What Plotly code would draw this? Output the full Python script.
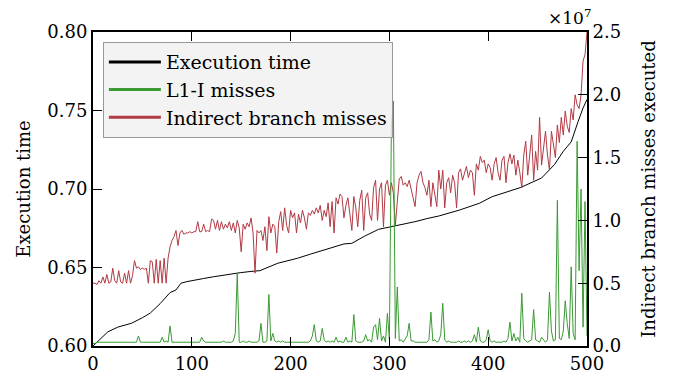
import plotly.graph_objects as go

# Execution time of each run (sorted), left axis
time_x = [0, 8, 15, 25, 39, 50, 58, 68, 74, 78, 84, 89, 95, 102, 112, 122, 135, 149,
          160, 169, 187, 207, 220, 234, 254, 262, 275, 289, 306, 326, 339, 350, 371,
          391, 404, 424, 433, 454, 467, 476, 484, 491, 496, 500]
time_y = [0.600, 0.605, 0.609, 0.612, 0.6145, 0.618, 0.621, 0.627, 0.631, 0.634, 0.6357,
          0.640, 0.641, 0.642, 0.643, 0.6441, 0.6455, 0.6467, 0.6475, 0.648, 0.6527,
          0.6559, 0.6585, 0.6611, 0.665, 0.6654, 0.670, 0.6743, 0.6764, 0.6792, 0.6813,
          0.6828, 0.6866, 0.6909, 0.6951, 0.6989, 0.701, 0.707, 0.7155, 0.724, 0.730,
          0.743, 0.7516, 0.757]

# Run index for the counter series
run_x = list(range(0, 501, 2))

# Indirect branch misses (x 1e7), right axis
branch_misses = (
    [0.50, 0.50, 0.49, 0.52, 0.50, 0.55, 0.50, 0.57, 0.50, 0.51, 0.62, 0.52, 0.50, 0.60,
     0.51, 0.50, 0.58, 0.50, 0.60, 0.50, 0.56]
    + [0.68, 0.62, 0.63, 0.61, 0.62, 0.61, 0.62, 0.50, 0.68, 0.67, 0.50, 0.69, 0.50, 0.68,
       0.50, 0.70, 0.50, 0.70]
    + [0.79, 0.84, 0.87, 0.92, 0.80, 0.90, 0.92, 0.89, 0.90, 0.90, 0.91, 0.90]
    + [0.91, 0.91, 0.99, 0.91, 0.91, 0.97, 0.91, 0.92, 0.91, 1.01, 1.00, 0.93, 1.00, 0.92,
       0.99, 0.93, 0.97, 0.94, 0.99, 0.92, 0.98, 0.90, 1.00, 0.94, 0.75]
    + [0.97, 0.93, 0.98, 0.95, 1.02, 0.90, 0.58, 0.92, 0.90, 0.92, 0.84, 0.95, 0.76, 1.03,
       0.90, 0.97, 0.95, 0.74, 0.99, 1.07, 0.92, 1.10, 0.96, 0.90, 1.08]
    + [1.02, 1.06, 0.90, 1.05, 0.98, 1.08, 1.02, 0.93, 1.06, 1.04, 1.08, 1.05, 1.10, 1.06,
       1.12, 1.00, 1.08, 1.03, 1.14, 0.95, 1.15, 0.90, 1.18, 1.13, 1.21]
    + [1.19, 1.02, 1.12, 1.18, 1.05, 0.92, 1.19, 1.10, 0.95, 1.16, 1.24, 0.92, 1.18, 1.22,
       1.05, 1.00, 1.26, 1.32, 1.00, 1.25, 1.30, 0.95, 1.28, 1.32, 1.20]
    + [1.30, 1.22, 0.96, 1.15, 1.33, 1.35, 1.28, 1.30, 1.27, 1.32, 1.24, 1.18, 1.11, 1.30,
       1.36, 1.39, 1.30, 1.26, 1.20, 1.32, 1.11, 1.30, 1.20, 1.11, 1.40]
    + [1.25, 1.40, 1.10, 1.30, 1.34, 1.22, 1.36, 1.30, 1.10, 1.38, 1.41, 1.32, 1.38, 1.43,
       1.34, 1.40, 1.38, 1.20, 1.45, 1.40, 1.51, 1.46, 1.48, 1.38, 1.45]
    + [1.42, 1.32, 1.45, 1.50, 1.38, 1.32, 1.48, 1.51, 1.30, 1.46, 1.53, 1.45, 1.52, 1.36,
       1.48, 1.38, 1.26, 1.52, 1.63, 1.36, 1.50, 1.68, 1.32, 1.55, 1.40]
    + [1.82, 1.44, 1.60, 1.71, 1.52, 1.40, 1.71, 1.58, 1.50, 1.76, 1.62, 1.82, 1.68, 1.87,
       1.75, 1.70, 1.89, 1.80, 2.00, 1.92, 1.89, 2.00, 2.27, 2.32, 2.50]
)

# L1-I cache misses (x 1e7), right axis
l1i_misses = (
    [0.02, 0.02, 0.03, 0.03, 0.03, 0.03, 0.03, 0.03, 0.03, 0.03, 0.03, 0.03, 0.03, 0.03,
     0.03, 0.03, 0.03, 0.03, 0.03, 0.03, 0.03, 0.03, 0.03, 0.08, 0.03, 0.03]
    + [0.03, 0.03, 0.03, 0.03, 0.03, 0.03, 0.03, 0.03, 0.03, 0.07, 0.03, 0.04, 0.03, 0.16,
       0.03, 0.03, 0.03, 0.03, 0.03, 0.03, 0.03, 0.03, 0.03, 0.03, 0.03]
    + [0.03, 0.03, 0.03, 0.03, 0.07, 0.04, 0.03, 0.03, 0.03, 0.03, 0.03, 0.03, 0.03, 0.03,
       0.03, 0.04, 0.03, 0.03, 0.03, 0.03, 0.04, 0.10, 0.58, 0.03, 0.03]
    + [0.04, 0.03, 0.03, 0.04, 0.03, 0.03, 0.03, 0.03, 0.04, 0.18, 0.03, 0.03, 0.04, 0.41,
       0.04, 0.10, 0.04, 0.03, 0.04, 0.03, 0.04, 0.03, 0.03, 0.03, 0.03]
    + [0.03, 0.03, 0.03, 0.03, 0.03, 0.03, 0.03, 0.03, 0.03, 0.04, 0.08, 0.17, 0.04, 0.03,
       0.04, 0.14, 0.05, 0.03, 0.04, 0.03, 0.04, 0.03, 0.07, 0.03, 0.04]
    + [0.03, 0.03, 0.07, 0.03, 0.04, 0.03, 0.25, 0.04, 0.03, 0.03, 0.03, 0.04, 0.09, 0.04,
       0.05, 0.03, 0.15, 0.17, 0.05, 0.22, 0.04, 0.08, 0.03, 0.26, 0.05]
    + [1.75, 1.95, 0.06, 0.47, 0.04, 0.05, 0.03, 0.06, 0.08, 0.18, 0.04, 0.04, 0.03, 0.03,
       0.03, 0.03, 0.03, 0.03, 0.03, 0.05, 0.27, 0.04, 0.05, 0.03, 0.04]
    + [0.09, 0.34, 0.05, 0.03, 0.04, 0.03, 0.03, 0.03, 0.03, 0.04, 0.03, 0.03, 0.04, 0.03,
       0.04, 0.03, 0.04, 0.09, 0.03, 0.15, 0.04, 0.03, 0.03, 0.05, 0.13]
    + [0.04, 0.03, 0.04, 0.03, 0.03, 0.03, 0.03, 0.04, 0.03, 0.06, 0.19, 0.04, 0.10, 0.04,
       0.07, 0.03, 0.42, 0.06, 0.04, 0.03, 0.04, 0.05, 0.29, 0.05, 0.04]
    + [0.03, 0.07, 0.05, 0.03, 0.05, 0.43, 0.12, 0.04, 0.05, 1.16, 0.06, 0.05, 0.12, 0.36,
       0.18, 0.06, 0.63, 0.10, 0.05, 1.63, 0.60, 1.25, 0.15, 1.15, 0.08]
)

BLACK = "#000000"
GREEN = "#3a9a33"
RED = "#b23a44"
FONT = "DejaVu Serif"
FS = 18

fig = go.Figure()

fig.add_trace(go.Scatter(x=time_x, y=time_y, mode="lines", yaxis="y",
                         line=dict(color=BLACK, width=1), showlegend=False))
fig.add_trace(go.Scatter(x=run_x, y=branch_misses, mode="lines", yaxis="y2",
                         line=dict(color=RED, width=1), showlegend=False))
fig.add_trace(go.Scatter(x=run_x, y=l1i_misses, mode="lines", yaxis="y2",
                         line=dict(color=GREEN, width=1), showlegend=False))

# Legend entries with thicker sample lines
for name, color in [("Execution time", BLACK), ("L1-I misses", GREEN),
                    ("Indirect branch misses", RED)]:
    fig.add_trace(go.Scatter(x=[None], y=[None], mode="lines", name=name,
                             line=dict(color=color, width=3)))

axis_common = dict(
    showline=True, linecolor="black", linewidth=2,
    ticks="inside", ticklen=9, tickwidth=1.2, tickcolor="black",
    showgrid=False, zeroline=False, automargin=False,
    tickfont=dict(family=FONT, size=FS, color="black"),
)

fig.update_layout(
    width=673, height=379,
    margin=dict(l=93, r=86, t=32, b=33, autoexpand=False),
    paper_bgcolor="white", plot_bgcolor="white",
    font=dict(family=FONT, size=FS, color="black"),
    xaxis=dict(range=[0, 500], tickvals=[0, 100, 200, 300, 400, 500],
               mirror="ticks", **axis_common),
    yaxis=dict(range=[0.60, 0.80], tickvals=[0.60, 0.65, 0.70, 0.75, 0.80],
               tickformat=".2f",
               title=dict(text="Execution time", font=dict(family=FONT, size=FS),
                          standoff=12),
               **axis_common),
    yaxis2=dict(range=[0, 2.5], tickvals=[0, 0.5, 1.0, 1.5, 2.0, 2.5],
                tickformat=".1f", overlaying="y", side="right",
                title=dict(text="Indirect branch misses executed",
                           font=dict(family=FONT, size=FS), standoff=22),
                **axis_common),
    legend=dict(x=0.02, y=0.968, xanchor="left", yanchor="top",
                bgcolor="rgba(240,240,240,0.8)", bordercolor="#999999",
                borderwidth=1, itemwidth=52,
                font=dict(family=FONT, size=19, color="black"),
                tracegroupgap=0),
    annotations=[dict(text="×10<sup>7</sup>", xref="paper", yref="paper",
                      x=1.0, y=1.0, xanchor="right", yanchor="bottom",
                      showarrow=False, xshift=6, yshift=2,
                      font=dict(family=FONT, size=17, color="black"))],
)

fig.write_html("out.html")
